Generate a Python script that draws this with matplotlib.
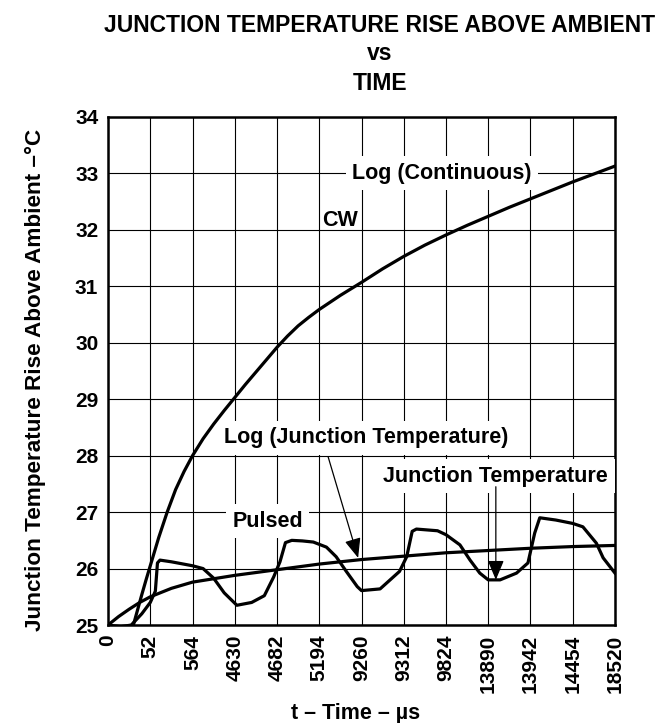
import matplotlib.pyplot as plt

plt.rcParams['font.family'] = ['Liberation Sans', 'DejaVu Sans']
plt.rcParams['font.weight'] = 'bold'

# x tick labels (evenly spaced, positions 0..12)
t_labels = ['0', '52', '564', '4630', '4682', '5194', '9260', '9312',
            '9824', '13890', '13942', '14454', '18520']
y_ticks = [25, 26, 27, 28, 29, 30, 31, 32, 33, 34]

# CW (continuous) curve
cw_x = [0.6, 0.7, 0.8, 0.9, 1.0, 1.2, 1.4, 1.6, 1.8, 2.0, 2.25, 2.5, 2.75,
        3.0, 3.25, 3.5, 3.75, 4.0, 4.25, 4.5, 4.75, 5.0, 5.5, 6.0, 6.5, 7.0,
        7.5, 8.0, 8.5, 9.0, 9.5, 10.0, 10.5, 11.0, 11.5, 12.0]
cw_y = [25.0, 25.27, 25.54, 25.8, 26.05, 26.55, 27.0, 27.4, 27.72, 28.0,
        28.3, 28.56, 28.8, 29.03, 29.26, 29.48, 29.7, 29.92, 30.12, 30.3,
        30.45, 30.59, 30.84, 31.07, 31.31, 31.53, 31.73, 31.91, 32.08, 32.24,
        32.4, 32.55, 32.7, 32.85, 32.99, 33.13]

# pulsed junction temperature
pulse_x = [0.0, 0.3, 0.55, 0.8, 1.0, 1.12, 1.17, 1.23, 1.5, 2.0, 2.25, 2.5,
           2.75, 3.05, 3.4, 3.7, 3.92, 4.07, 4.2, 4.35, 4.6, 4.86, 5.17, 5.4,
           5.64, 5.9, 6.0, 6.44, 6.9, 7.07, 7.2, 7.3, 7.8, 8.0, 8.33, 8.57,
           8.8, 9.0, 9.28, 9.67, 9.94, 10.1, 10.22, 10.6, 11.0, 11.24, 11.56,
           11.72, 12.0]
pulse_y = [25.0, 24.97, 25.0, 25.2, 25.4, 25.6, 26.1, 26.15, 26.12, 26.05,
           26.0, 25.83, 25.57, 25.35, 25.4, 25.52, 25.85, 26.12, 26.46, 26.5,
           26.49, 26.47, 26.38, 26.21, 25.95, 25.68, 25.61, 25.64, 25.95,
           26.21, 26.66, 26.7, 26.67, 26.6, 26.42, 26.15, 25.92, 25.8, 25.8,
           25.92, 26.1, 26.63, 26.9, 26.86, 26.8, 26.74, 26.45, 26.19, 25.92]

# log fit of junction temperature
log_x = [0.0, 0.25, 0.5, 0.75, 1.0, 1.5, 2.0, 3.0, 4.0, 5.0, 6.0, 7.0, 8.0,
         9.0, 10.0, 11.0, 12.0]
log_y = [25.0, 25.15, 25.28, 25.4, 25.5, 25.65, 25.76, 25.88, 25.98, 26.08,
         26.16, 26.22, 26.28, 26.32, 26.36, 26.39, 26.41]

fs = 15.5

fig = plt.figure(figsize=(6.71, 7.23), dpi=100)
ax = fig.add_axes([0.161, 0.1355, 0.7555, 0.7027])

ax.plot(cw_x, cw_y, color='black', lw=2.3, zorder=5)
ax.plot(pulse_x, pulse_y, color='black', lw=2.3, zorder=5)
ax.plot(log_x, log_y, color='black', lw=2.3, zorder=5)

ax.set_xlim(0, 12)
ax.set_ylim(25, 34)
ax.set_xticks(range(len(t_labels)))
ax.set_xticklabels(t_labels, rotation=90)
ax.set_yticks(y_ticks)
ax.tick_params(length=0, labelsize=15, pad=7)
ax.grid(True, color='black', lw=0.8, zorder=1)
ax.set_axisbelow(True)
for s in ax.spines.values():
    s.set_linewidth(1.8)

box = dict(boxstyle='square,pad=0.3', fc='white', ec='none')
ax.text(7.9, 33.0, 'Log (Continuous)', ha='center', va='center', fontsize=fs, bbox=box, zorder=3)
ax.text(5.49, 32.16, 'CW', ha='center', va='center', fontsize=fs, zorder=3)
ax.text(6.1, 28.32, 'Log (Junction Temperature)', ha='center', va='center', fontsize=fs, bbox=box, zorder=3)
ax.text(9.18, 27.64, 'Junction Temperature', ha='center', va='center', fontsize=fs, bbox=box, zorder=3)
ax.text(3.78, 26.84, 'Pulsed', ha='center', va='center', fontsize=fs, bbox=box, zorder=3)

arrow = dict(arrowstyle='-|>,head_length=0.6,head_width=0.25', color='black',
             lw=0.9, shrinkA=0, shrinkB=0, mutation_scale=20)
ax.annotate('', xy=(5.92, 26.19), xytext=(5.21, 27.98), arrowprops=arrow, zorder=6)
ax.annotate('', xy=(9.18, 25.8), xytext=(9.18, 27.45), arrowprops=arrow, zorder=6)

fig.text(380/671, 1 - 25/723, 'JUNCTION TEMPERATURE RISE ABOVE AMBIENT', ha='center', va='center', fontsize=16.5)
fig.text(380/671, 1 - 53/723, 'vs', ha='center', va='center', fontsize=16.5)
fig.text(380/671, 1 - 83/723, 'TIME', ha='center', va='center', fontsize=16.5)

fig.text(35/671, 1 - 380/723, 'Junction Temperature Rise Above Ambient \u2013\u00b0C',
         rotation=90, ha='center', va='center', fontsize=16.2)
fig.text(356/671, 1 - 714/723, 't \u2013 Time \u2013 \u00b5s', ha='center', va='center', fontsize=fs)

fig.savefig('out.png', dpi=100)
